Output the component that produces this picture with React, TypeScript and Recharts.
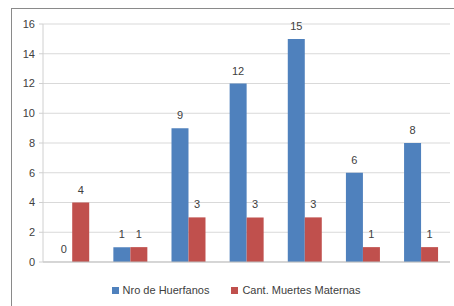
import React from "react";
import { BarChart, Bar, XAxis, YAxis, CartesianGrid, Legend, LabelList } from "recharts";

const categories = ["G1", "G2", "G3", "G4", "G5", "G6", "G7"];
const huerfanos = [0, 1, 9, 12, 15, 6, 8];
const muertes = [4, 1, 3, 3, 3, 1, 1];
const yTicks = [0, 2, 4, 6, 8, 10, 12, 14, 16];
const seriesNames = ["Nro de Huerfanos", "Cant. Muertes Maternas"];

const BLUE = "#4F81BD";
const RED = "#C0504D";
const TEXT = "#404040";
const FONT = "'Liberation Sans', Arial, sans-serif";

// keep zero-valued bars in the layout so their value label still shows
const tinyForZero = (v: number) => (v === 0 ? 0.01 : 0);

function LegendContent() {
  const items = [
    { name: seriesNames[0], color: BLUE },
    { name: seriesNames[1], color: RED },
  ];
  return (
    <div style={{ display: "flex", justifyContent: "center", paddingLeft: 22, fontSize: 11, fontFamily: FONT, color: TEXT }}>
      {items.map((it, i) => (
        <div key={it.name} style={{ display: "flex", alignItems: "center", marginLeft: i ? 22 : 0 }}>
          <span style={{ width: 7, height: 7, background: it.color, display: "inline-block", marginRight: 4 }} />
          <span>{it.name}</span>
        </div>
      ))}
    </div>
  );
}

export default function App() {
  const data = categories.map((c, i) => ({
    name: c,
    huerfanos: huerfanos[i],
    muertes: muertes[i],
  }));

  return (
    <div style={{ position: "absolute", left: 0, top: 0, width: 454, height: 306, background: "#fff", fontFamily: FONT }}>
      <div
        style={{
          position: "absolute",
          left: 11,
          top: 8,
          width: 460,
          height: 320,
          borderLeft: "1.5px solid #8a8a8a",
          borderTop: "1.5px solid #8a8a8a",
        }}
      />
      <BarChart
        width={454}
        height={306}
        data={data}
        margin={{ top: 24, right: 4, left: 0, bottom: 10 }}
        barCategoryGap="21%"
        barGap={0}
        style={{ position: "absolute", left: 0, top: 0 }}
      >
        <CartesianGrid vertical={false} stroke="#d9d9d9" strokeWidth={1.2} />
        <XAxis dataKey="name" tick={false} height={8} axisLine={{ stroke: "#bfbfbf" }} tickLine={false} />
        <YAxis
          width={43}
          domain={[0, 16]}
          ticks={yTicks}
          interval={0}
          tick={{ fill: TEXT, fontSize: 11, fontFamily: FONT }}
          axisLine={{ stroke: "#d0d0d0" }}
          tickLine={{ stroke: "#d0d0d0" }}
          tickSize={4}
          tickMargin={4}
        />
        <Legend verticalAlign="bottom" content={<LegendContent />} wrapperStyle={{ paddingTop: 14 }} />
        <Bar dataKey="huerfanos" name={seriesNames[0]} fill={BLUE} minPointSize={tinyForZero} isAnimationActive={false}>
          <LabelList dataKey="huerfanos" position="top" fill={TEXT} fontSize={11} fontFamily={FONT} offset={9} />
        </Bar>
        <Bar dataKey="muertes" name={seriesNames[1]} fill={RED} isAnimationActive={false}>
          <LabelList dataKey="muertes" position="top" fill={TEXT} fontSize={11} fontFamily={FONT} offset={9} />
        </Bar>
      </BarChart>
    </div>
  );
}
